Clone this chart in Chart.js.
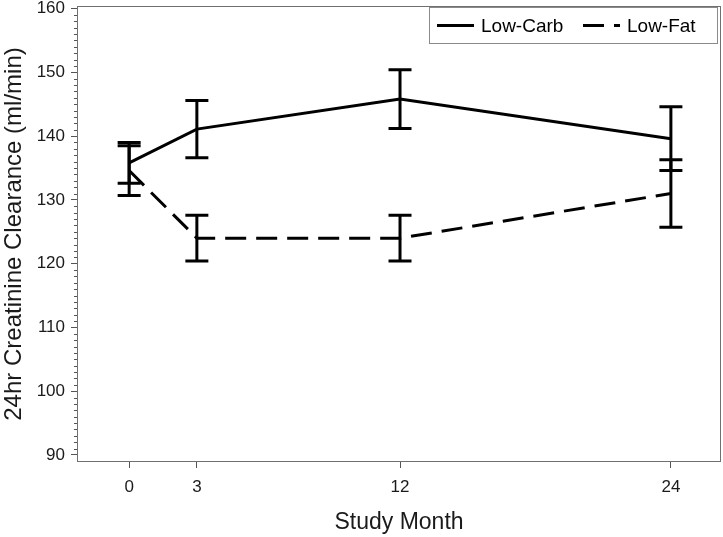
<!DOCTYPE html>
<html>
<head>
<meta charset="utf-8">
<script src="https://cdn.jsdelivr.net/npm/chart.js@4.4.1/dist/chart.umd.min.js"></script>
<style>
  html, body { margin: 0; padding: 0; background: #fff; }
</style>
</head>
<body>
<canvas id="clearance-chart" width="723" height="537"></canvas>
<script>
// values (mean and half-length of the error bar)
var months = [0, 3, 12, 24];
var carbMean = [135.8, 141.1, 145.8, 139.6];
var carbErr = [3.2, 4.5, 4.6, 5.0];
var fatMean = [134.6, 124.0, 124.0, 131.0];
var fatErr = [3.9, 3.6, 3.6, 5.3];
var yLabels = [90, 100, 110, 120, 130, 140, 150, 160];

var FONT = "'Liberation Sans', Arial, sans-serif";

function points(means) {
  return months.map(function (m, i) { return { x: m, y: means[i] }; });
}

// error bars, drawn from the same scales as the lines
var errorBars = {
  id: 'errorBars',
  afterDatasetsDraw: function (chart) {
    var ctx = chart.ctx;
    var xs = chart.scales.x, ys = chart.scales.y;
    ctx.save();
    ctx.strokeStyle = '#000';
    ctx.lineWidth = 3;
    ctx.lineCap = 'butt';
    chart.data.datasets.forEach(function (ds) {
      ds.data.forEach(function (p, i) {
        var x = xs.getPixelForValue(p.x);
        var lo = ys.getPixelForValue(p.y - ds.errors[i]);
        var hi = ys.getPixelForValue(p.y + ds.errors[i]);
        ctx.beginPath();
        ctx.moveTo(x, lo); ctx.lineTo(x, hi);
        ctx.moveTo(x - 11.5, lo); ctx.lineTo(x + 11.5, lo);
        ctx.moveTo(x - 11.5, hi); ctx.lineTo(x + 11.5, hi);
        ctx.stroke();
      });
    });
    ctx.restore();
  }
};

// frame, minor ticks and the boxed legend
var decorations = {
  id: 'decorations',
  afterDraw: function (chart) {
    var ctx = chart.ctx;
    var a = chart.chartArea;
    var ys = chart.scales.y;
    ctx.save();
    ctx.strokeStyle = '#707070';
    ctx.lineWidth = 1;
    ctx.strokeRect(a.left + 0.5, a.top + 0.5, a.right - a.left - 1, a.bottom - a.top - 1);

    ctx.strokeStyle = '#555';
    ctx.beginPath();
    for (var v = 90; v <= 160; v++) {
      if (v % 10 === 0) continue;
      var y = Math.round(ys.getPixelForValue(v)) + 0.5;
      ctx.moveTo(a.left - 3, y); ctx.lineTo(a.left, y);
    }
    ctx.stroke();

    // legend
    var bx = a.right - 292, by = a.top + 1, bw = 288, bh = 36;
    ctx.strokeStyle = '#8a8a8a';
    ctx.strokeRect(bx + 0.5, by + 0.5, bw, bh);
    ctx.font = '19px ' + FONT;
    ctx.fillStyle = '#000';
    ctx.textBaseline = 'middle';
    var cy = by + bh / 2 + 0.5;
    var items = [
      { x: bx + 8, ds: chart.data.datasets[0] },
      { x: bx + 154, ds: chart.data.datasets[1] }
    ];
    items.forEach(function (it) {
      ctx.save();
      ctx.lineWidth = 3;
      ctx.strokeStyle = '#000';
      ctx.setLineDash(it.ds.borderDash || []);
      ctx.beginPath();
      ctx.moveTo(it.x, cy); ctx.lineTo(it.x + 37, cy);
      ctx.stroke();
      ctx.restore();
      ctx.fillText(it.ds.label, it.x + 44, cy + 1);
    });
    ctx.restore();
  }
};

var ctx = document.getElementById('clearance-chart').getContext('2d');
var myChart = new Chart(ctx, {
  type: 'line',
  data: {
    datasets: [{
      label: 'Low-Carb',
      data: points(carbMean),
      errors: carbErr,
      borderColor: '#000',
      borderWidth: 3,
      pointRadius: 0,
      tension: 0,
      fill: false
    },
    {
      label: 'Low-Fat',
      data: points(fatMean),
      errors: fatErr,
      borderColor: '#000',
      borderWidth: 3,
      borderDash: [21, 10],
      pointRadius: 0,
      tension: 0,
      fill: false
    }]
  },
  options: {
    responsive: false,
    animation: false,
    devicePixelRatio: 1,
    layout: { padding: { top: 6, right: 2, left: 0, bottom: 0 } },
    scales: {
      x: {
        type: 'linear',
        min: -2.31,
        max: 26.22,
        afterBuildTicks: function (scale) {
          scale.ticks = months.map(function (m) { return { value: m }; });
        },
        afterFit: function (scale) {
          scale.height = 75;
          scale.paddingLeft = 0;
          scale.paddingRight = 0;
        },
        grid: { drawOnChartArea: false, tickLength: 6, color: '#555', tickColor: '#555' },
        border: { display: false },
        ticks: { font: { family: FONT, size: 17 }, color: '#1a1a1a', padding: 9, maxRotation: 0 },
        title: {
          display: true,
          text: 'Study Month',
          font: { family: FONT, size: 23 },
          color: '#1a1a1a',
          padding: { top: 0, bottom: 1 }
        }
      },
      y: {
        min: 88.9,
        max: 160.4,
        afterBuildTicks: function (scale) {
          scale.ticks = yLabels.map(function (v) { return { value: v }; });
        },
        afterFit: function (scale) {
          scale.width = 77;
          scale.paddingTop = 0;
          scale.paddingBottom = 0;
        },
        grid: { drawOnChartArea: false, tickLength: 6, color: '#555', tickColor: '#555' },
        border: { display: false },
        ticks: { font: { family: FONT, size: 17 }, color: '#1a1a1a', padding: 6 },
        title: {
          display: true,
          text: '24hr Creatinine Clearance (ml/min)',
          font: { family: FONT, size: 24 },
          color: '#1a1a1a',
          padding: { top: 0, bottom: 0 }
        }
      }
    },
    plugins: {
      legend: { display: false },
      tooltip: { enabled: false }
    }
  },
  plugins: [errorBars, decorations]
});
</script>
</body>
</html>
